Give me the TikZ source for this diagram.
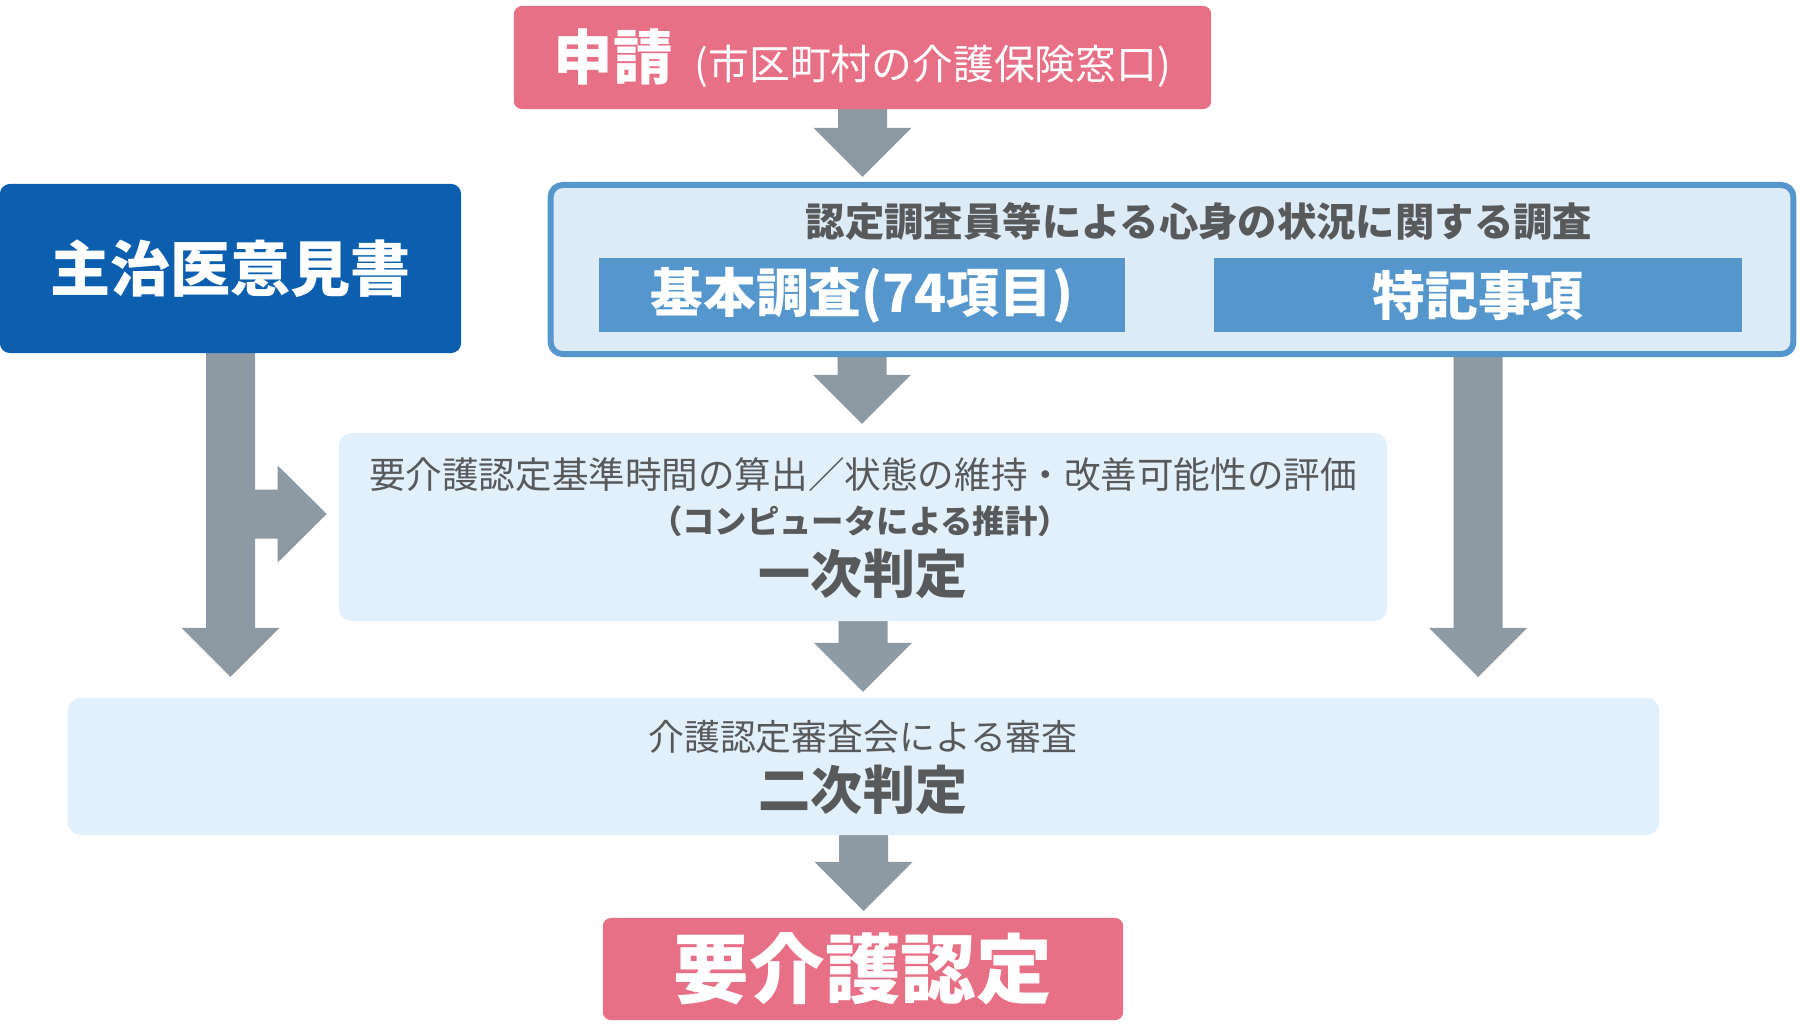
\documentclass[tikz,border=0pt]{standalone}
\usepackage{fontspec}
\setmainfont{Noto Sans CJK JP}
\usetikzlibrary{calc,backgrounds}
\definecolor{pinkc}{HTML}{E87086}
\definecolor{darkblue}{HTML}{0C5FAE}
\definecolor{midblue}{HTML}{5597CD}
\definecolor{surveyfill}{HTML}{DDEBF7}
\definecolor{lightfill}{HTML}{E2F0FC}
\definecolor{textgrey}{HTML}{58595B}
\definecolor{arrowgrey}{HTML}{8E9AA3}
\newcommand{\fs}[1]{\fontsize{#1}{#1}\selectfont}
\newcommand{\vblock}[2]{\fill[arrowgrey] ($#1+(-24.5,0)$) -- ($#1+(24.5,0)$) -- ($#2+(24.5,-49)$) -- ($#2+(49,-49)$) -- #2 -- ($#2+(-49,-49)$) -- ($#2+(-24.5,-49)$) -- cycle;}
\tikzset{
  box/.style={inner sep=0pt, outer sep=0pt},
  pinkbox/.style={box, fill=pinkc, rounded corners=0.08cm, text=white},
  bluebox/.style={box, fill=darkblue, rounded corners=0.1cm, text=white},
  midbox/.style={box, fill=midblue, text=white},
  surveybox/.style={box, fill=surveyfill, draw=midblue, line width=0.06cm, rounded corners=0.12cm},
  lightbox/.style={box, fill=lightfill, rounded corners=0.13cm},
  greytext/.style={inner sep=0pt, text=textgrey},
}
\begin{document}
\begin{tikzpicture}[x=0.01cm, y=-0.01cm]
\useasboundingbox (0,0) rectangle (1800,1026);
% boxes
\node[pinkbox, minimum width=6.97cm, minimum height=1.03cm] (shinsei) at (862.5,57.5) {};
\node[inner sep=0pt, text=white] (shinseitext) at (862.5,58) {{\fs{16.9}\bfseries 申請}\hspace{0.22cm}{\fs{11.6}(市区町村の介護保険窓口)}};
\node[bluebox, minimum width=4.61cm, minimum height=1.69cm, font=\fs{17.1}\bfseries] (ishi) at (230.5,268.5) {主治医意見書};
\node[surveybox, minimum width=12.42cm, minimum height=1.69cm] (survey) at (1172,269.5) {};
\node[greytext, font=\fs{11.2}\bfseries] (surveytitle) at (1199,221) {認定調査員等による心身の状況に関する調査};
\node[midbox, minimum width=5.26cm, minimum height=0.74cm, font=\fs{15}\bfseries] (kihon) at (862,295) {基本調査(74項目)};
\node[midbox, minimum width=5.28cm, minimum height=0.74cm, font=\fs{15}\bfseries] (tokki) at (1478,295) {特記事項};
\node[lightbox, minimum width=10.48cm, minimum height=1.88cm] (ichiji) at (863,527) {};
\node[greytext, font=\fs{10.4}] (ichiji1) at (863,475) {要介護認定基準時間の算出／状態の維持・改善可能性の評価};
\node[greytext, font=\fs{9.2}\bfseries] (ichiji2) at (860,521) {（コンピュータによる推計）};
\node[greytext, font=\fs{14.8}\bfseries] (ichiji3) at (863,574) {一次判定};
\node[lightbox, minimum width=15.91cm, minimum height=1.37cm] (niji) at (863.5,766.5) {};
\node[greytext, font=\fs{10.2}] (niji1) at (863,737) {介護認定審査会による審査};
\node[greytext, font=\fs{14.8}\bfseries] (niji2) at (863,790) {二次判定};
\node[pinkbox, minimum width=5.20cm, minimum height=1.02cm, font=\fs{21.5}\bfseries] (youkaigo) at (863,969) {要介護認定};
% arrows
\coordinate (t1) at ($(survey.north -| shinsei.south)+(0,-8)$);
\coordinate (s2) at (kihon.south |- survey.south);
\coordinate (t2) at ($(ichiji.north -| kihon.south)+(0,-9)$);
\coordinate (t3) at ($(niji.north -| ichiji.south)+(0,-6)$);
\coordinate (t4) at ($(youkaigo.north -| niji.south)+(0,-7)$);
\coordinate (s5) at (tokki.south |- survey.south);
\coordinate (t5) at ($(niji.north -| tokki.south)+(0,-21)$);
\coordinate (lt) at ($(niji.north -| ishi.south)+(0,-21)$);
\coordinate (bt) at ($(ichiji.west)+(-12,-13)$);
\begin{scope}[on background layer]
\vblock{(shinsei.south)}{(t1)}
\vblock{(s2)}{(t2)}
\vblock{(ichiji.south)}{(t3)}
\vblock{(niji.south)}{(t4)}
\vblock{(s5)}{(t5)}
\fill[arrowgrey] ($(ishi.south)+(-24.5,0)$) -- ($(ishi.south)+(24.5,0)$)
  -- ($(bt -| ishi.south)+(24.5,-24.5)$) -- ($(bt)+(-49,-24.5)$) -- ($(bt)+(-49,-48.5)$)
  -- (bt) -- ($(bt)+(-49,48.5)$) -- ($(bt)+(-49,24.5)$) -- ($(bt -| ishi.south)+(24.5,24.5)$)
  -- ($(lt)+(24.5,-49)$) -- ($(lt)+(49,-49)$) -- (lt) -- ($(lt)+(-49,-49)$) -- ($(lt)+(-24.5,-49)$) -- cycle;
\end{scope}
\end{tikzpicture}
\end{document}
